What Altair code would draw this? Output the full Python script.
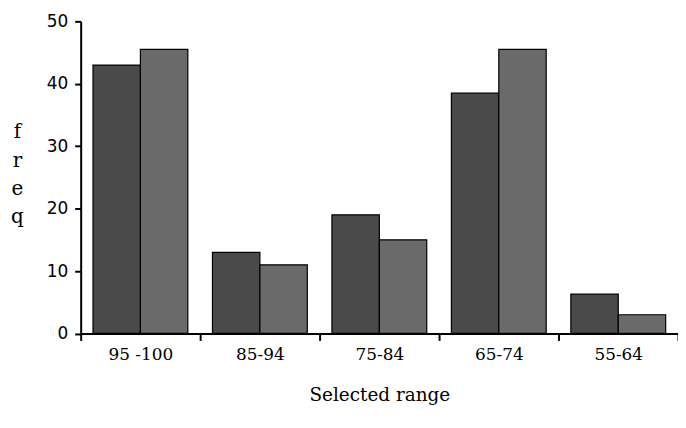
import altair as alt
import pandas as pd

categories = ["95 -100", "85-94", "75-84", "65-74", "55-64"]
series_names = ["solid", "dotted"]
solid_values = [43, 13, 19, 38.5, 6.3]
dotted_values = [45.5, 11, 15, 45.5, 3]
y_ticks = [0, 10, 20, 30, 40, 50]

rows = []
for c, a, b in zip(categories, solid_values, dotted_values):
    rows.append({"range": c, "series": series_names[0], "freq": a})
    rows.append({"range": c, "series": series_names[1], "freq": b})
df = pd.DataFrame(rows)

chart = alt.Chart(df).mark_bar(stroke="black", strokeWidth=1.2).encode(
    x=alt.X(
        "range:N",
        sort=categories,
        scale=alt.Scale(paddingInner=0, paddingOuter=0),
        axis=alt.Axis(
            title="Selected range",
            labelAngle=0,
            tickBand="extent",
            labelFont="DejaVu Serif",
            labelFontSize=17,
            labelColor="black",
            labelPadding=6,
            tickSize=7,
            tickWidth=2,
            tickColor="black",
            domainColor="black",
            domainWidth=2,
            titleFont="DejaVu Serif",
            titleFontSize=18.5,
            titleFontWeight="normal",
            titleColor="black",
            titlePadding=23,
        ),
    ),
    xOffset=alt.XOffset(
        "series:N",
        sort=series_names,
        scale=alt.Scale(paddingInner=0, paddingOuter=0.26),
    ),
    y=alt.Y(
        "freq:Q",
        scale=alt.Scale(domain=[0, 50], nice=False),
        axis=alt.Axis(
            values=y_ticks,
            grid=False,
            labelFont="DejaVu Sans",
            labelFontSize=17,
            labelColor="black",
            labelPadding=7,
            tickSize=6,
            tickWidth=2,
            tickColor="black",
            domainColor="black",
            domainWidth=2,
            title=["f", "r", "e", "q"],
            titleAngle=0,
            titleFont="DejaVu Serif",
            titleFontSize=20,
            titleFontWeight="normal",
            titleColor="black",
            titleAlign="center",
            titleBaseline="top",
            titleLineHeight=28.5,
            titleX=-64,
            titleY=101,
        ),
    ),
    fill=alt.Fill(
        "series:N",
        scale=alt.Scale(domain=series_names, range=["#4a4a4a", "#6a6a6a"]),
        legend=None,
    ),
).properties(
    width=600,
    height=313.5,
    autosize=alt.AutoSizeParams(type="none"),
    padding={"left": 73, "top": 12.5, "right": 0, "bottom": 80},
).configure_view(stroke=None)

chart.save("out.html", embed_options={"renderer": "svg", "actions": False})
